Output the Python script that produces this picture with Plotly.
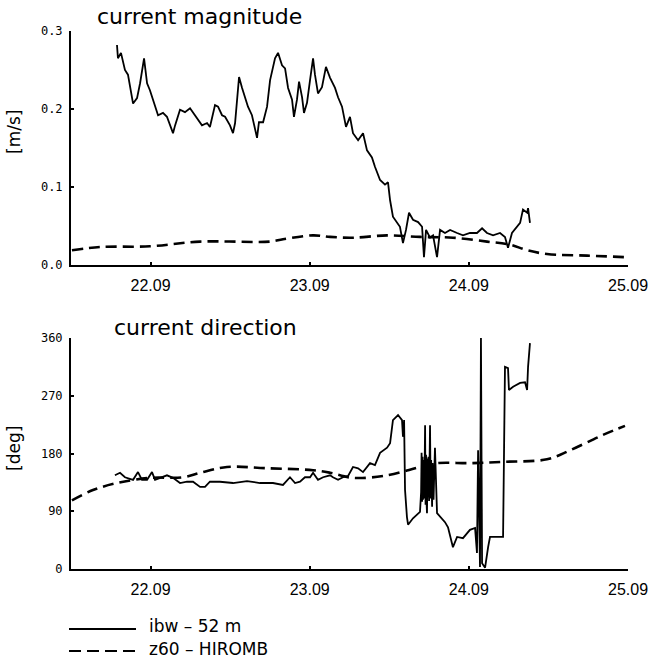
import plotly.graph_objects as go

# ---------------- data (x in days of September) ----------------
ticks_x = [22, 23, 24, 25]
ticks_x_text = ["22.09", "23.09", "24.09", "25.09"]

mag_ibw_t = [21.789, 21.795, 21.814, 21.839, 21.858, 21.890, 21.915, 21.934, 21.959, 21.978,
             21.996, 22.028, 22.047, 22.078, 22.103, 22.141, 22.154, 22.185, 22.216, 22.248,
             22.279, 22.323, 22.355, 22.373, 22.405, 22.424, 22.449, 22.468, 22.499, 22.518,
             22.531, 22.556, 22.575, 22.593, 22.612, 22.637, 22.656, 22.669, 22.681, 22.707,
             22.732, 22.751, 22.782, 22.801, 22.826, 22.845, 22.864, 22.889, 22.901, 22.920,
             22.933, 22.952, 22.964, 22.983, 23.002, 23.021, 23.033, 23.052, 23.077, 23.102,
             23.128, 23.159, 23.178, 23.203, 23.228, 23.253, 23.272, 23.304, 23.335, 23.360,
             23.391, 23.410, 23.442, 23.473, 23.492, 23.505, 23.523, 23.549, 23.567, 23.586,
             23.605, 23.624, 23.649, 23.681, 23.706, 23.718, 23.731, 23.756, 23.775, 23.800,
             23.819, 23.850, 23.882, 23.926, 23.963, 24.007, 24.051, 24.083, 24.114, 24.152,
             24.196, 24.227, 24.246, 24.271, 24.303, 24.322, 24.340, 24.366, 24.372, 24.384]
mag_ibw_v = [0.282, 0.265, 0.272, 0.250, 0.244, 0.207, 0.214, 0.233, 0.265, 0.233,
             0.224, 0.203, 0.192, 0.195, 0.190, 0.169, 0.179, 0.199, 0.196, 0.201,
             0.192, 0.179, 0.182, 0.177, 0.205, 0.203, 0.192, 0.190, 0.179, 0.169,
             0.182, 0.241, 0.227, 0.215, 0.203, 0.192, 0.175, 0.163, 0.183, 0.183,
             0.203, 0.237, 0.265, 0.272, 0.256, 0.252, 0.227, 0.212, 0.190, 0.212,
             0.235, 0.215, 0.195, 0.208, 0.237, 0.265, 0.244, 0.220, 0.228, 0.254,
             0.240, 0.227, 0.215, 0.203, 0.177, 0.190, 0.169, 0.160, 0.169, 0.147,
             0.138, 0.126, 0.109, 0.103, 0.106, 0.083, 0.062, 0.054, 0.049, 0.028,
             0.045, 0.067, 0.058, 0.055, 0.049, 0.010, 0.045, 0.035, 0.038, 0.010,
             0.045, 0.041, 0.045, 0.041, 0.038, 0.041, 0.041, 0.047, 0.041, 0.038,
             0.041, 0.036, 0.022, 0.041, 0.049, 0.054, 0.071, 0.067, 0.073, 0.054]

mag_z60_t = [21.506, 21.682, 21.996, 22.311, 22.751, 22.832, 23.021, 23.128, 23.272,
             23.486, 23.693, 23.900, 24.114, 24.259, 24.366, 24.491, 24.743, 24.994]
mag_z60_v = [0.019, 0.023, 0.024, 0.030, 0.030, 0.033, 0.038, 0.036, 0.035,
             0.038, 0.036, 0.035, 0.030, 0.026, 0.019, 0.014, 0.012, 0.010]

dir_ibw_t = [21.776, 21.808, 21.839, 21.890, 21.921, 21.946, 21.978, 22.009, 22.028, 22.059,
             22.103, 22.141, 22.185, 22.229, 22.267, 22.311, 22.342, 22.373, 22.436, 22.518,
             22.606, 22.688, 22.769, 22.832, 22.876, 22.908, 22.939, 22.970, 23.002, 23.021,
             23.052, 23.084, 23.128, 23.146, 23.178, 23.209, 23.241, 23.272, 23.304, 23.335,
             23.379, 23.410, 23.442, 23.486, 23.505, 23.523, 23.555, 23.580, 23.586, 23.593,
             23.599, 23.611, 23.618, 23.649, 23.693, 23.700, 23.703, 23.706, 23.709, 23.712,
             23.716, 23.720, 23.725, 23.728, 23.731, 23.734, 23.737, 23.740, 23.743, 23.746,
             23.750, 23.756, 23.760, 23.763, 23.766, 23.769, 23.772, 23.775, 23.778, 23.781,
             23.787, 23.800, 23.819, 23.850, 23.869, 23.900, 23.926,
             23.963, 24.007, 24.039, 24.051, 24.058, 24.070, 24.076, 24.083, 24.102, 24.121,
             24.133, 24.177, 24.215, 24.227, 24.246, 24.252, 24.278, 24.322, 24.353, 24.366,
             24.372, 24.384]
dir_ibw_v = [146, 150, 143, 139, 151, 139, 139, 151, 139, 142,
             146, 142, 134, 136, 136, 128, 128, 136, 136, 134,
             137, 134, 134, 131, 143, 134, 136, 143, 143, 150,
             139, 143, 146, 143, 139, 143, 145, 159, 157, 151,
             165, 162, 181, 189, 196, 232, 240, 232, 206, 232,
             123, 81, 69, 79, 89, 120, 181, 105, 175, 108,
             170, 110, 224, 100, 178, 104, 87, 172, 112, 175,
             106, 224, 110, 170, 102, 97, 165, 150, 108, 160,
             189, 87, 81, 73, 65, 34, 50,
             48, 61, 64, 25, 185, 3, 360, 9, 2, 34,
             50, 50, 50, 315, 313, 279, 284, 290, 291, 279,
             315, 352]

dir_z60_t = [21.506, 21.638, 21.789, 21.996, 22.204, 22.311, 22.480, 22.732, 23.021, 23.128,
             23.272, 23.486, 23.693, 23.800, 24.007, 24.215, 24.491, 24.636, 24.843, 24.981]
dir_z60_v = [107, 123, 134, 142, 143, 150, 159, 157, 154, 150,
             142, 146, 159, 165, 165, 167, 171, 185, 209, 223]

mag_ticks = [0, 0.1, 0.2, 0.3]
mag_tick_text = ["0.0", "0.1", "0.2", "0.3"]
dir_ticks = [0, 90, 180, 270, 360]
dir_tick_text = ["0", "90", "180", "270", "360"]

series_names = ["ibw \u2013 52 m", "z60 \u2013 HIROMB"]

# ---------------- layout helpers ----------------
W, H = 657, 658
def fx(p):
    return p / W
def fy(p):
    return 1 - p / H

SOLID = dict(color="black", width=1.8)
DASHED = dict(color="black", width=2.6, dash="11px,6px")

fig = go.Figure()
fig.add_trace(go.Scatter(x=mag_ibw_t, y=mag_ibw_v, mode="lines", line=SOLID,
                         xaxis="x", yaxis="y", showlegend=False, name=series_names[0]))
fig.add_trace(go.Scatter(x=mag_z60_t, y=mag_z60_v, mode="lines", line=DASHED, line_shape="spline",
                         xaxis="x", yaxis="y", showlegend=False, name=series_names[1]))
fig.add_trace(go.Scatter(x=dir_ibw_t, y=dir_ibw_v, mode="lines", line=SOLID,
                         xaxis="x2", yaxis="y2", showlegend=False, name=series_names[0]))
fig.add_trace(go.Scatter(x=dir_z60_t, y=dir_z60_v, mode="lines", line=DASHED, line_shape="spline",
                         xaxis="x2", yaxis="y2", showlegend=False, name=series_names[1]))

xcommon = dict(range=[21.5, 25.0], tickvals=ticks_x, ticktext=ticks_x_text,
               showgrid=False, zeroline=False, showline=True, linecolor="black", linewidth=2,
               ticks="inside", ticklen=3, tickcolor="black", tickwidth=2,
               ticklabelstandoff=5,
               tickfont=dict(family="Liberation Sans", size=16, color="black"),
               domain=[fx(71), fx(628)], automargin=False)
ycommon = dict(showgrid=False, zeroline=False, showline=True, linecolor="black", linewidth=2,
               ticks="inside", ticklen=3, tickcolor="black", tickwidth=2,
               ticklabelstandoff=4,
               tickfont=dict(family="DejaVu Sans Mono", size=12, color="black"),
               automargin=False)

fig.update_layout(
    width=W, height=H,
    margin=dict(l=0, r=0, t=0, b=0),
    paper_bgcolor="white", plot_bgcolor="white",
    xaxis=dict(**xcommon, anchor="y"),
    yaxis=dict(**ycommon, range=[0, 0.3], tickvals=mag_ticks, ticktext=mag_tick_text,
               domain=[fy(265), fy(31)], anchor="x"),
    xaxis2=dict(**xcommon, anchor="y2"),
    yaxis2=dict(**ycommon, range=[0, 360], tickvals=dir_ticks, ticktext=dir_tick_text,
                domain=[fy(569), fy(338)], anchor="x2"),
    showlegend=False,
)

title_font = dict(family="DejaVu Sans", size=22, color="black")
label_font = dict(family="DejaVu Sans", size=17, color="black")
ann = [
    dict(text="current magnitude", x=fx(199), y=fy(16), font=title_font),
    dict(text="current direction", x=fx(205), y=fy(327), font=title_font),
    dict(text="[m/s]", x=fx(14), y=fy(132), font=label_font, textangle=-90),
    dict(text="[deg]", x=fx(14), y=fy(449), font=label_font, textangle=-90),
    dict(text=series_names[0], x=fx(147), y=fy(626), font=label_font, xanchor="left"),
    dict(text=series_names[1], x=fx(147), y=fy(649), font=label_font, xanchor="left"),
]
for a in ann:
    a.setdefault("xanchor", "center")
    fig.add_annotation(xref="paper", yref="paper", showarrow=False, yanchor="middle", **a)

# legend keys
fig.add_shape(type="line", xref="paper", yref="paper", x0=fx(69), x1=fx(136), y0=fy(629), y1=fy(629),
              line=dict(color="black", width=1.8))
fig.add_shape(type="line", xref="paper", yref="paper", x0=fx(69), x1=fx(136), y0=fy(651), y1=fy(651),
              line=dict(color="black", width=2.2, dash="12px,6px"))

fig.write_html("out.html")
